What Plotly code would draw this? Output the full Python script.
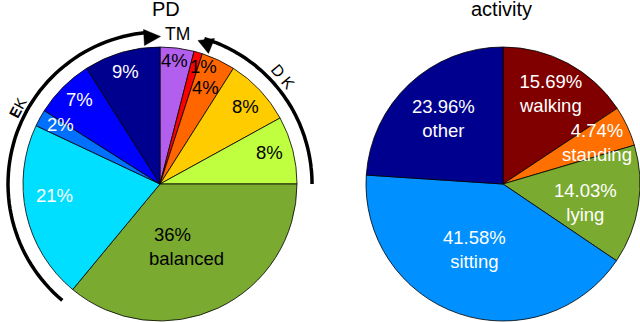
import math

import plotly.graph_objects as go

W, H = 640, 322
FONT = "Liberation Sans"

pd_values = [4, 1, 4, 8, 8, 36, 21, 2, 7, 9]
pd_colors = ["#B35FEE", "#FF0000", "#FF6600", "#FFCC00", "#BFFF40",
             "#7AAB30", "#00DFFF", "#0070FF", "#0000FF", "#00008F"]
pd_labels = ["4%", "1%", "4%", "8%", "8%", "36%", "balanced", "21%", "2%", "7%", "9%"]
pd_label_colors = ["black"] * 7 + ["white"] * 4
pd_label_pos = [(174, 61), (203, 66), (205, 87), (245, 106), (269, 152),
                (172, 234), (186, 258), (54, 195), (60, 124), (79, 100), (125, 71)]

activity_values = [15.69, 4.74, 14.03, 41.58, 23.96]
activity_colors = ["#800000", "#FF7000", "#7AAB30", "#0090FF", "#00008F"]
activity_labels = ["15.69%<br>walking", "4.74%<br>standing", "14.03%<br>lying",
                   "41.58%<br>sitting", "23.96%<br>other"]
activity_label_pos = [(550, 93), (597, 142), (585, 202), (474, 249), (443, 119)]

CX, CY = 160, 184


def frac_x(px):
    return px / W


def frac_y(py):
    return 1 - py / H


def add_pie(fig, values, colors, x0, x1):
    fig.add_trace(
        go.Pie(
            values=values,
            sort=False,
            direction="clockwise",
            rotation=0,
            textinfo="none",
            hoverinfo="skip",
            showlegend=False,
            marker=dict(colors=colors, line=dict(color="black", width=0.8)),
            domain=dict(x=[frac_x(x0), frac_x(x1)], y=[frac_y(321), frac_y(47)]),
        )
    )


def polar(r, deg):
    # degrees clockwise from 12 o'clock, around the left pie
    a = math.radians(deg)
    return CX + r * math.sin(a), CY - r * math.cos(a)


def arc_path(r, start, end, steps=60):
    pts = [polar(r, start + (end - start) * i / steps) for i in range(steps + 1)]
    return "M " + " L ".join(f"{x:.1f},{y:.1f}" for x, y in pts)


def head_path(tip, base_mid, half):
    dx, dy = base_mid[0] - tip[0], base_mid[1] - tip[1]
    n = math.hypot(dx, dy)
    ox, oy = -dy / n * half, dx / n * half
    return (f"M {tip[0]},{tip[1]} L {base_mid[0] + ox},{base_mid[1] + oy} "
            f"L {base_mid[0] - ox},{base_mid[1] - oy} Z")


fig = go.Figure()
add_pie(fig, pd_values, pd_colors, 23, 297)
add_pie(fig, activity_values, activity_colors, 366, 640)

shapes = []
line = dict(color="black", width=3.5)
shapes.append(dict(type="path", path=arc_path(152, 90, 17), line=line))
shapes.append(dict(type="path", path=arc_path(152, 220, 355), line=line))
shapes.append(dict(type="path", path=head_path((160.5, 36.5), (144, 37.5), 8),
                   fillcolor="black", line=dict(color="black", width=0.5)))
shapes.append(dict(type="path", path=head_path((198, 40.5), (211.5, 46), 8),
                   fillcolor="black", line=dict(color="black", width=0.5)))
for s in shapes:
    s.update(xref="x", yref="y")

annotations = []


def add_text(text, x, y, size=18.5, color="black", angle=0):
    annotations.append(
        dict(text=text, x=x / W, y=frac_y(y), xref="paper", yref="paper",
             xanchor="center", yanchor="middle",
             showarrow=False, textangle=angle, align="center",
             font=dict(family=FONT, size=size, color=color))
    )


for text, color, (x, y) in zip(pd_labels, pd_label_colors, pd_label_pos):
    add_text(text, x, y, color=color)
for text, (x, y) in zip(activity_labels, activity_label_pos):
    add_text(text, x, y, color="white")

add_text("PD", 166, 9.5, size=20)
add_text("activity", 501, 9.5, size=20)
add_text("TM", 177, 34, size=17.5)
add_text("D K", 283, 76, size=16, angle=50)
add_text("<b>E</b>K", 18, 108, size=15, angle=-62)

fig.update_layout(
    width=W,
    height=H,
    margin=dict(l=0, r=0, t=0, b=0),
    paper_bgcolor="white",
    plot_bgcolor="rgba(0,0,0,0)",
    xaxis=dict(range=[0, W], visible=False, domain=[0, 1], fixedrange=True),
    yaxis=dict(range=[H, 0], visible=False, domain=[0, 1], fixedrange=True),
    shapes=shapes,
    annotations=annotations,
)
# invisible anchor so the pixel axes exist next to the pies
fig.add_trace(go.Scatter(x=[0], y=[0], mode="markers", marker=dict(opacity=0),
                         hoverinfo="skip", showlegend=False))
fig.write_html(
    "out.html",
    config=dict(displayModeBar=False, responsive=False),
    post_script="document.body.style.margin = '0'; document.body.style.overflow = 'hidden';",
)
